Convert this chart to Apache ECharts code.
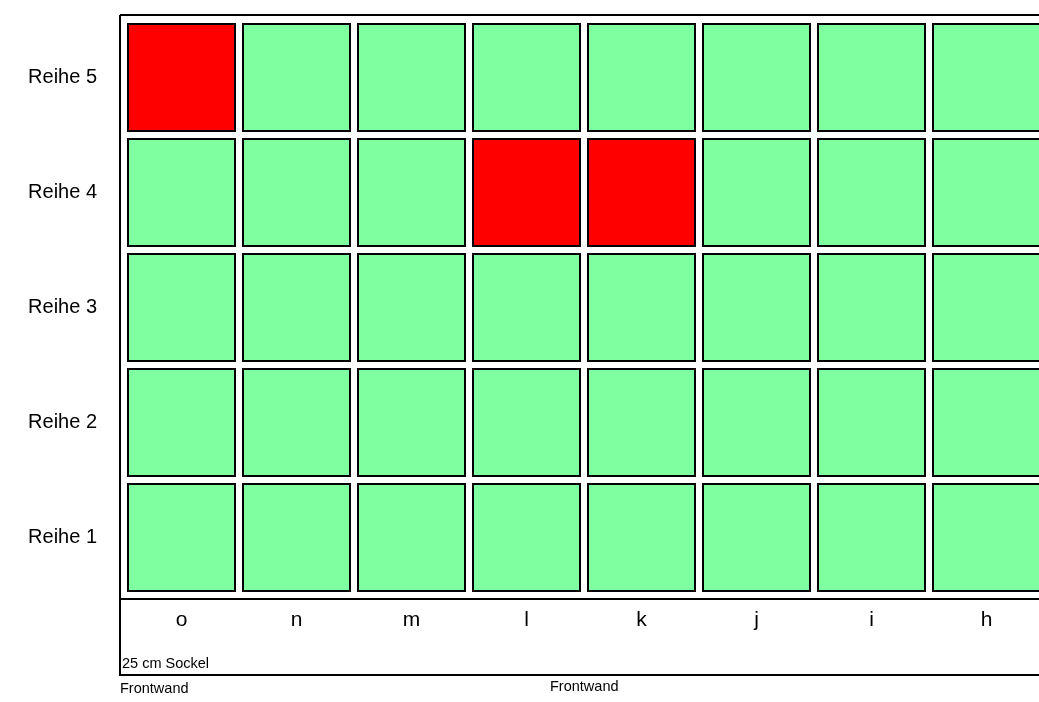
<!DOCTYPE html>
<html><head><meta charset="utf-8">
<script src="https://cdn.jsdelivr.net/npm/echarts@6/dist/echarts.min.js"></script>
<style>html,body{margin:0;padding:0;background:#fff;overflow:hidden}#c{width:1044px;height:702px}</style>
</head><body><div id="c"></div>
<script>
var columns = ['o','n','m','l','k','j','i','h'];
var rows = ['Reihe 1','Reihe 2','Reihe 3','Reihe 4','Reihe 5'];
// 1 = occupied (red), 0 = free (green); per row, columns o..h
var reihe1 = [0,0,0,0,0,0,0,0];
var reihe2 = [0,0,0,0,0,0,0,0];
var reihe3 = [0,0,0,0,0,0,0,0];
var reihe4 = [0,0,0,1,1,0,0,0];
var reihe5 = [1,0,0,0,0,0,0,0];
var rowStates = [reihe1, reihe2, reihe3, reihe4, reihe5];

var data = [];
rowStates.forEach(function(r, yi){ r.forEach(function(v, xi){ data.push([xi, yi, v]); }); });

var FONT = "'Liberation Sans',Arial,sans-serif";
var chart = echarts.init(document.getElementById('c'));
chart.setOption({
  animation: false,
  grid: {left: 124, top: 20, right: 0, bottom: 107, containLabel: false},
  xAxis: {type: 'category', data: columns, axisLine: {show: false}, axisTick: {show: false},
    splitLine: {show: false},
    axisLabel: {margin: 15, fontFamily: FONT, fontSize: 21, color: '#000', verticalAlign: 'top'}},
  yAxis: {type: 'category', data: rows, axisLine: {show: false}, axisTick: {show: false},
    splitLine: {show: false},
    axisLabel: {margin: 27, fontFamily: FONT, fontSize: 20, color: '#000'}},
  series: [{
    type: 'custom',
    data: data,
    renderItem: function(params, api){
      var c = api.coord([api.value(0), api.value(1)]);
      var s = api.size([1, 1]);
      var w = s[0] - 8, h = s[1] - 8;
      return {type: 'rect', shape: {x: c[0] - w/2, y: c[1] - h/2, width: w, height: h},
        style: {fill: api.value(2) ? '#FF0000' : '#80FFA0', stroke: '#000', lineWidth: 2}};
    }
  }],
  graphic: [
    {type: 'line', shape: {x1: 120, y1: 15, x2: 120, y2: 676}, style: {stroke: '#000', lineWidth: 2}},
    {type: 'line', shape: {x1: 120, y1: 15, x2: 1044, y2: 15}, style: {stroke: '#000', lineWidth: 2}},
    {type: 'line', shape: {x1: 120, y1: 599, x2: 1044, y2: 599}, style: {stroke: '#000', lineWidth: 2}},
    {type: 'line', shape: {x1: 120, y1: 675, x2: 1044, y2: 675}, style: {stroke: '#000', lineWidth: 2}},
    {type: 'text', left: 122, top: 656, style: {text: '25 cm Sockel', font: '14.5px ' + FONT, fill: '#000'}},
    {type: 'text', left: 120, top: 681, style: {text: 'Frontwand', font: '14.5px ' + FONT, fill: '#000'}},
    {type: 'text', left: 550, top: 679, style: {text: 'Frontwand', font: '14.5px ' + FONT, fill: '#000'}}
  ]
});
</script></body></html>
